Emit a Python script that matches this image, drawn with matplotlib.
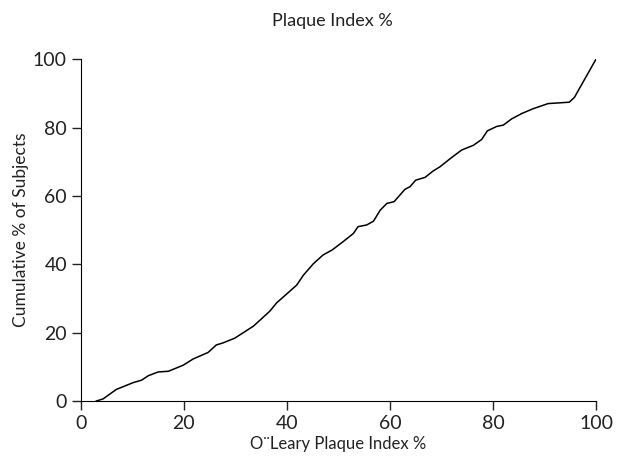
import matplotlib.pyplot as plt

# values
plaque = [3.0, 4.3, 6.9, 10.2, 11.8, 13.1, 15.0, 17.0, 19.9, 21.8, 24.7, 26.3,
          27.6, 29.9, 33.5, 36.7, 38.0, 41.9, 43.2, 45.1, 47.0, 48.8, 50.9,
          52.9, 53.8, 55.5, 56.8, 58.1, 59.4, 60.8, 62.9, 63.9, 65.0, 66.8,
          68.4, 69.7, 71.7, 73.9, 76.2, 77.8, 78.9, 80.7, 82.0, 83.6, 85.6,
          87.8, 90.7, 94.8, 95.8, 100.0]
cum_pct = [0.0, 0.6, 3.4, 5.4, 6.1, 7.4, 8.5, 8.7, 10.5, 12.3, 14.2, 16.4,
           17.0, 18.4, 21.9, 26.3, 28.7, 33.9, 36.8, 40.1, 42.7, 44.2, 46.6,
           49.0, 51.0, 51.5, 52.6, 55.8, 57.8, 58.3, 61.9, 62.7, 64.6, 65.4,
           67.3, 68.5, 70.9, 73.4, 74.8, 76.5, 79.0, 80.3, 80.7, 82.5, 84.1,
           85.5, 87.0, 87.4, 88.8, 100.0]

plt.rcParams['font.family'] = ['Lato', 'DejaVu Sans']

fig = plt.figure(figsize=(6.17, 4.62), dpi=100)
ax = fig.add_axes([0.131, 0.132, 0.835, 0.740])
ax.plot(plaque, cum_pct, color='black', lw=1.1)

ax.set_xlim(0, 100)
ax.set_ylim(0, 100)
ax.set_xticks(range(0, 101, 20))
ax.set_yticks(range(0, 101, 20))
ax.spines['top'].set_visible(False)
ax.spines['right'].set_visible(False)
ax.tick_params(direction='out', length=6.5, width=1, labelsize=14, colors='#222222')
ax.set_xlabel('O¨Leary Plaque Index %', fontsize=12, labelpad=3, color='#222222')
ax.set_ylabel('Cumulative % of Subjects', fontsize=12.5, labelpad=3, color='#222222')
fig.text(0.539, 0.955, 'Plaque Index %', ha='center', va='center', fontsize=13,
         color='#222222')

fig.savefig('out.png', dpi=100)
